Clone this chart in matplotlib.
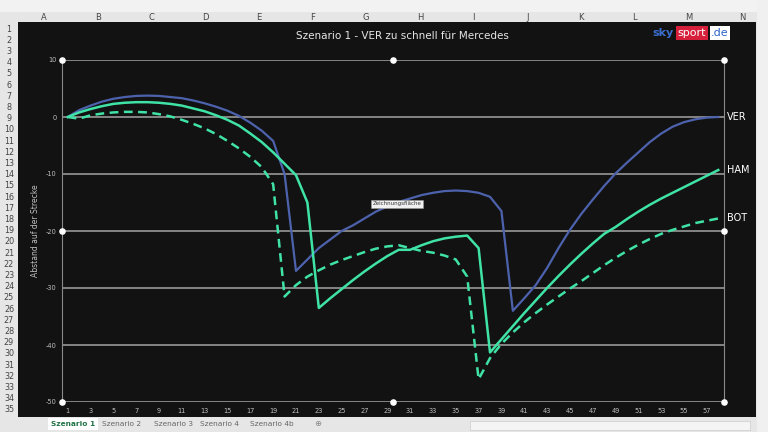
import numpy as np
import matplotlib
matplotlib.use('Agg')
import matplotlib.pyplot as plt
from matplotlib.patches import Rectangle

plt.rcParams['axes.unicode_minus'] = False

laps = np.arange(1, 59)

ver = [0, 1.2, 2.0, 2.7, 3.2, 3.5, 3.7, 3.75, 3.7, 3.5,
       3.3, 2.9, 2.4, 1.8, 1.1, 0.2, -1.0, -2.4, -4.2, -10.0,
       -27.0, -25.0, -23.0, -21.5, -20.0, -19.0, -17.8, -16.6, -15.7, -14.9,
       -14.3, -13.7, -13.3, -13.0, -12.9, -13.0, -13.3, -14.0, -16.5, -34.0,
       -31.8, -29.5, -26.5, -23.0, -19.8, -17.0, -14.5, -12.1, -9.9, -8.0,
       -6.2, -4.4, -2.9, -1.7, -0.9, -0.4, -0.1, 0.0]

ham = [0, 0.8, 1.4, 1.9, 2.3, 2.5, 2.6, 2.6, 2.5, 2.3,
       2.0, 1.5, 1.0, 0.3, -0.5, -1.5, -2.9, -4.4, -6.2, -8.2,
       -10.2, -15.0, -33.5, -31.8, -30.2, -28.6, -27.1, -25.7, -24.4, -23.3,
       -23.3, -22.5, -21.8, -21.3, -21.0, -20.8, -23.0, -41.3, -39.0, -36.7,
       -34.4, -32.2, -30.0, -27.9, -25.9, -24.0, -22.2, -20.5, -19.3, -17.9,
       -16.6, -15.4, -14.3, -13.3, -12.3, -11.3, -10.3, -9.3]

bot = [0, -0.3, 0.3, 0.6, 0.8, 0.9, 0.9, 0.8, 0.5, 0.1,
       -0.5, -1.2, -2.0, -3.0, -4.2, -5.5, -7.0, -8.8, -11.8, -31.5,
       -29.5, -28.0, -26.9, -25.9, -25.1, -24.4, -23.7, -23.1, -22.7, -22.5,
       -23.0, -23.5, -23.8, -24.3, -25.0, -28.0, -46.0, -42.3, -39.8, -37.8,
       -36.0, -34.4, -32.9, -31.5, -30.1, -28.8, -27.4, -26.0, -24.7, -23.5,
       -22.4, -21.4, -20.5, -19.8, -19.2, -18.6, -18.2, -17.8]

names = ['VER', 'HAM', 'BOT']
y_ticks = [10, 0, -10, -20, -30, -40, -50]
col_letters = list('ABCDEFGHIJKLMN')
tabs = ['Szenario 1', 'Szenario 2', 'Szenario 3', 'Szenario 4', 'Szenario 4b']

W, H = 768, 432
fig = plt.figure(figsize=(W / 100, H / 100), dpi=100, facecolor='#e6e6e6')

def px(x, y):
    return x / W, 1 - y / H

def rect(x0, y0, x1, y1, **kw):
    fig.patches.append(Rectangle(px(x0, y1), (x1 - x0) / W, (y1 - y0) / H,
                                 transform=fig.transFigure, zorder=-10, **kw))

# excel frame
rect(0, 0, 768, 12, facecolor='#f2f2f2', edgecolor='none')
rect(18, 22, 756, 417, facecolor='#121212', edgecolor='none')
rect(757, 0, 768, 432, facecolor='#f0f0f0', edgecolor='none')
rect(470, 421, 750, 430, facecolor='#f4f4f4', edgecolor='#cccccc', lw=0.5)
for i, c in enumerate(col_letters):
    x, y = px(44 + i * 53.7, 17)
    fig.text(x, y, c, fontsize=6, color='#444444', ha='center', va='center')
for r in range(1, 36):
    x, y = px(9, 29.1 + (r - 1) * 11.2)
    fig.text(x, y, str(r), fontsize=5.8, color='#444444', ha='center', va='center')
tab_x = [73, 122, 173, 220, 272]
for t, tx in zip(tabs, tab_x):
    x, y = px(tx, 424)
    if t == 'Szenario 1':
        rect(tx - 25, 418, tx + 25, 430, facecolor='#ffffff', edgecolor='none')
        fig.text(x, y, t, fontsize=5.3, color='#217346', fontweight='bold',
                 ha='center', va='center')
    else:
        fig.text(x, y, t, fontsize=5.3, color='#666666', ha='center', va='center')
x, y = px(318, 424)
fig.text(x, y, '⊕', fontsize=6, color='#888888', ha='center', va='center')

# chart
ax = fig.add_axes([62 / W, 1 - 402 / H, (724 - 62) / W, (402 - 60) / H])
ax.set_facecolor('#121212')
ax.set_xlim(0.5, 58.5)
ax.set_ylim(-50, 10)
for v in y_ticks:
    ax.axhline(v, color='#a3a3a3', lw=1.1, zorder=1)

ax.plot(laps, ver, color='#4d62ad', lw=1.6, zorder=3)
ax.plot(laps, ham, color='#40e3a6', lw=1.8, zorder=3)
ax.plot(laps, bot, color='#40e3a6', lw=1.8, ls=(0, (3.5, 2.2)), zorder=3)

for name, s in zip(names, [ver, ham, bot]):
    ax.annotate(name, (58.5, s[-1]), xytext=(2, 0), textcoords='offset points',
                color='white', fontsize=7, va='center', ha='left',
                annotation_clip=False)

ax.set_yticks(y_ticks)
ax.set_xticks(laps[::2])
ax.tick_params(colors='#bfbfbf', labelsize=4.8, length=0, pad=4)
for s in ['top', 'bottom']:
    ax.spines[s].set_visible(False)
for s in ['left', 'right']:
    ax.spines[s].set_color('#8a8a8a')
    ax.spines[s].set_linewidth(0.8)
ax.set_ylabel('Abstand auf der Strecke', color='#bfbfbf', fontsize=5.5, labelpad=4)

# selection handles
hx = [0, 0.5, 1, 0, 1, 0, 0.5, 1]
hy = [1, 1, 1, 0.5, 0.5, 0, 0, 0]
ax.scatter(hx, hy, s=14, color='white', transform=ax.transAxes, clip_on=False, zorder=5)

x, y = px(402, 36)
fig.text(x, y, 'Szenario 1 - VER zu schnell für Mercedes', color='#e6e6e6',
         fontsize=7.5, ha='center', va='center')

# logo
x, y = px(663, 33)
fig.text(x, y, 'sky', color='#3a6fd0', fontsize=8, fontweight='bold', ha='center', va='center')
x, y = px(692, 33)
fig.text(x, y, 'sport', color='white', fontsize=8, ha='center', va='center',
         bbox=dict(boxstyle='square,pad=0.15', fc='#d61f3a', ec='none'))
x, y = px(720, 33)
fig.text(x, y, '.de', color='#2a63c8', fontsize=8, ha='center', va='center',
         bbox=dict(boxstyle='square,pad=0.15', fc='white', ec='none'))

# tooltip
x, y = px(397, 204)
fig.text(x, y, 'Zeichnungsfläche', color='#333333', fontsize=4, ha='center', va='center',
         bbox=dict(boxstyle='square,pad=0.3', fc='#f0f0f0', ec='#999999', lw=0.4))

fig.savefig('out.png', dpi=100, facecolor=fig.get_facecolor())
